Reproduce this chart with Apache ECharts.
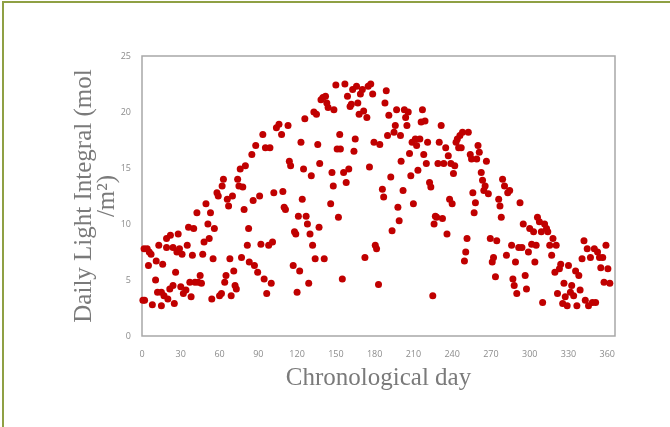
<!DOCTYPE html>
<html>
<head>
<meta charset="utf-8">
<script src="https://cdn.jsdelivr.net/npm/echarts@6/dist/echarts.min.js"></script>
<style>
  html, body { margin: 0; padding: 0; background: #fff; }
  #frame {
    position: absolute; left: 0; top: 0; width: 670px; height: 427px;
    box-sizing: border-box;
    border-left: 2px solid #8fa044; border-top: 2px solid #8fa044;
    margin-left: 2px; margin-top: 1px;
  }
  #chart { position: absolute; left: 0; top: 0; width: 670px; height: 427px; }
</style>
</head>
<body>
<div id="frame"></div>
<div id="chart"></div>
<script>
// Chronological day of each observation
const days = [
  0.7, 2, 1.6, 4, 5.6, 5, 7, 8, 10.5, 11, 12, 13, 15, 15, 16, 17, 19, 19, 20, 21.5,
  22, 24, 24, 25, 26, 27, 28, 29, 30, 31, 32, 34, 35, 36, 37, 38, 39, 40, 41, 42.5,
  43.5, 45, 46, 47, 48, 49.5, 51, 52, 53, 54, 55, 56, 58, 59, 60, 61.5, 62, 63, 64, 65,
  66, 67, 68, 69, 70, 71, 72, 73, 74, 75, 76, 77, 78, 79, 80, 81.5, 82.5, 83, 85, 86,
  87, 88, 89.5, 91, 92, 93.5, 94.5, 95.5, 96.5, 98, 99, 100, 101, 102, 104, 106, 108, 109, 110, 111,
  113, 114, 115, 117, 118, 119, 120, 121, 122, 123, 124, 125, 126, 127, 128, 129, 130, 131, 132, 133,
  134, 135, 136, 137, 137.5, 138.5, 140, 141, 142, 143, 144, 146, 147, 148, 148.5, 150, 151, 152, 153, 153.5,
  155, 156, 157, 158, 159, 160, 161, 162, 163, 164, 165, 166, 167, 168, 169, 170.5, 171.5, 172.5, 174, 175,
  176, 177, 178.5, 179.5, 180.5, 181.5, 183, 184, 186, 187, 188, 189, 190, 191, 192.5, 193.5, 195, 196, 197, 198,
  199, 200, 200.5, 202, 203, 204, 205, 206, 207, 208, 209, 210, 211.5, 212.5, 213.5, 215, 216, 217, 218, 219,
  220, 221, 222.5, 223.5, 225, 226, 227, 228, 229, 230, 231.5, 232.5, 233.5, 235, 236, 237, 238, 239, 240, 241,
  242, 243, 244, 245, 246, 247, 248, 249.5, 250.5, 251.5, 252.5, 254, 255, 256, 257, 258, 259, 260, 261, 262.5,
  263.5, 264.5, 265.5, 266.5, 268, 269.5, 271, 272, 273.5, 274.5, 276, 277, 278, 279, 280.5, 282, 283, 284.5, 286, 287,
  288, 289, 290, 291.5, 292.5, 294, 295, 296.5, 297.5, 299, 300, 301.5, 303, 304, 305, 306, 307.5, 309, 310, 311.5,
  313, 314, 315.5, 317, 318, 319.5, 320.5, 321.5, 323, 324, 325.5, 326.5, 327.5, 329, 330, 331.5, 332.5, 334, 335.5, 336.5,
  338, 339, 340.5, 342, 343, 344.5, 345.5, 347, 348.5, 350, 351, 352.5, 354, 355, 356.5, 357.5, 359, 360.5, 362
];

// Daily light integral (mol/m2) for each day above
const dli = [
  3.2, 3.2, 7.8, 7.8, 7.5, 6.3, 7.3, 2.8, 5.0, 6.7, 3.9, 8.1, 2.7, 3.9, 6.4, 3.6, 7.9, 8.7, 3.3, 4.2,
  9.0, 7.9, 4.5, 2.9, 5.7, 7.5, 9.1, 7.8, 4.4, 7.3, 3.8, 4.1, 8.1, 9.7, 4.8, 3.5, 7.2, 9.6, 4.8, 11.0,
  4.8, 5.4, 4.7, 7.3, 8.4, 11.8, 10.0, 8.7, 11.0, 3.3, 6.9, 9.6, 12.8, 12.5, 3.6, 3.8, 13.4, 14.0, 4.8, 5.4,
  12.2, 11.6, 6.9, 3.6, 12.5, 5.8, 4.5, 4.2, 14.0, 13.4, 14.9, 7.0, 13.3, 11.3, 15.2, 8.1, 9.6, 6.6, 16.2, 12.1,
  6.3, 17.0, 5.7, 12.5, 8.2, 18.0, 5.1, 16.8, 3.8, 8.1, 16.8, 4.7, 8.4, 12.8, 18.6, 18.9, 18.0, 12.9, 11.5, 11.3,
  18.8, 15.6, 15.2, 6.3, 9.3, 9.1, 3.9, 10.7, 5.8, 17.3, 12.2, 14.9, 19.4, 10.7, 10.0, 4.7, 9.1, 14.3, 8.1, 20.0,
  6.9, 19.8, 17.1, 9.7, 15.4, 21.1, 21.3, 6.9, 21.4, 20.8, 20.4, 11.8, 14.6, 13.4, 20.2, 22.4, 16.7, 10.6, 18.0, 16.7,
  5.1, 14.6, 22.5, 13.7, 21.4, 14.9, 20.5, 20.7, 22.0, 16.5, 17.6, 22.3, 20.8, 19.8, 21.6, 22.0, 20.1, 7.0, 19.5, 22.3,
  15.1, 22.5, 21.6, 17.3, 8.1, 7.8, 4.6, 17.1, 13.1, 12.4, 20.8, 21.9, 17.9, 19.7, 14.2, 9.4, 18.2, 18.8, 20.2, 11.5,
  10.3, 17.9, 15.6, 13.0, 20.2, 19.5, 18.8, 20.0, 16.3, 14.3, 17.3, 11.8, 17.6, 17.0, 14.8, 17.6, 19.1, 20.2, 16.2, 19.2,
  15.4, 17.3, 13.7, 13.3, 3.6, 10.0, 10.7, 10.6, 15.4, 17.3, 18.8, 10.5, 15.4, 16.8, 9.1, 16.1, 12.2, 15.4, 11.8, 14.5,
  15.2, 17.3, 17.6, 16.8, 17.9, 16.8, 18.2, 6.7, 7.5, 8.7, 18.2, 16.2, 15.8, 12.8, 11.0, 11.9, 15.8, 17.0, 16.4, 14.6,
  13.9, 13.0, 13.4, 15.6, 12.7, 8.7, 6.6, 7.0, 5.3, 8.5, 12.2, 11.6, 10.6, 14.0, 13.4, 7.2, 12.8, 13.0, 8.1, 5.1,
  4.5, 6.6, 3.8, 7.9, 11.9, 7.9, 10.0, 5.4, 4.2, 7.5, 9.6, 8.2, 9.3, 6.6, 8.1, 10.6, 10.2, 9.3, 3.0, 10.0,
  9.6, 9.3, 8.1, 7.2, 8.7, 5.7, 8.1, 3.8, 6.0, 6.4, 2.9, 4.7, 3.5, 2.7, 6.3, 3.9, 4.5, 3.6, 5.8, 2.7,
  5.4, 4.1, 6.9, 8.5, 3.2, 7.8, 2.7, 7.0, 3.0, 7.8, 3.0, 7.5, 7.0, 6.1, 7.0, 4.8, 8.1, 6.0, 4.7
];

const xTicks = { min: 0, max: 366, interval: 30 };
const yTicks = { min: 0, max: 25, interval: 5 };

const points = days.map((d, i) => [d, dli[i]]);

const chart = echarts.init(document.getElementById("chart"));

const tickLabel = {
  color: "#8c8c8c",
  fontSize: 9,
  fontFamily: "Open Sans",
};

const option = {
  animation: false,
  grid: {
    left: 142,
    right: 55,
    top: 56,
    bottom: 91,
    show: true,
    borderColor: "#a8a8a8",
    borderWidth: 1.5,
    backgroundColor: "#fff",
  },
  xAxis: {
    type: "value",
    ...xTicks,
    name: "Chronological day",
    nameLocation: "middle",
    nameGap: 30,
    nameMoveOverlap: false,
    nameTextStyle: {
      color: "#7a7a7a",
      fontSize: 25,
      fontFamily: "Liberation Serif",
    },
    axisLine: { show: false },
    axisTick: { show: false },
    splitLine: { show: false },
    axisLabel: { ...tickLabel, margin: 14, showMaxLabel: false },
  },
  yAxis: {
    type: "value",
    ...yTicks,
    name: "Daily Light Integral (mol\n/m\u00b2)",
    nameLocation: "middle",
    nameRotate: 90,
    nameGap: 23,
    nameMoveOverlap: false,
    nameTextStyle: {
      color: "#7a7a7a",
      fontSize: 25,
      fontFamily: "Liberation Serif",
      lineHeight: 23,
    },
    axisLine: { show: false },
    axisTick: { show: false },
    splitLine: { show: false },
    axisLabel: { ...tickLabel, margin: 11 },
  },
  series: [
    {
      type: "scatter",
      data: points,
      symbol: "circle",
      symbolSize: 7,
      itemStyle: { color: "#c00000", opacity: 1 },
    },
  ],
};

chart.setOption(option);
</script>
</body>
</html>
